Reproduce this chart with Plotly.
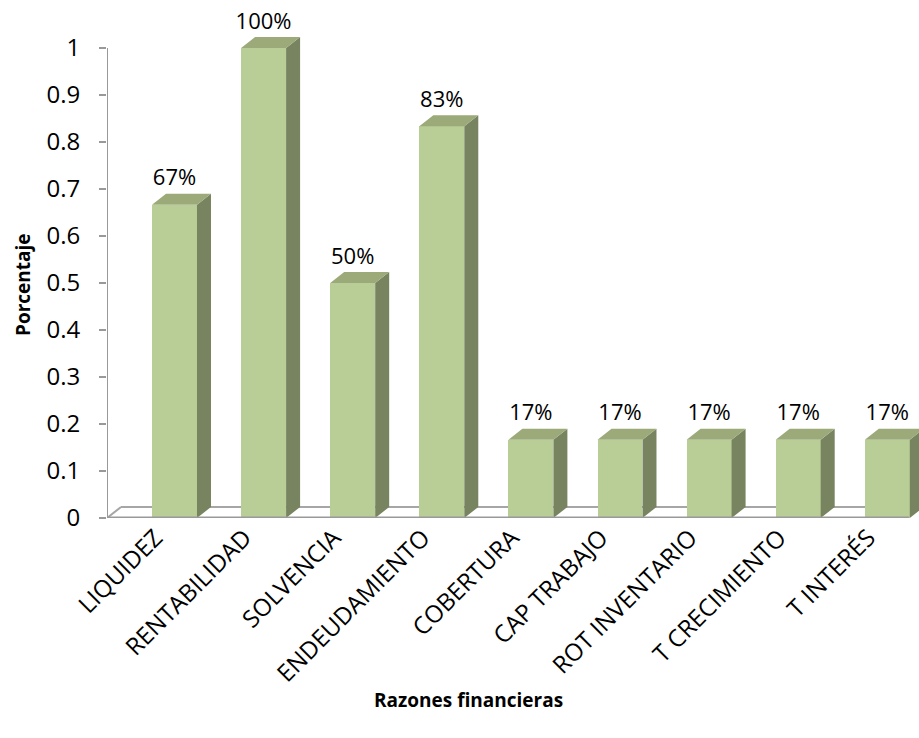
import plotly.graph_objects as go

categories = ["LIQUIDEZ", "RENTABILIDAD", "SOLVENCIA", "ENDEUDAMIENTO", "COBERTURA",
              "CAP TRABAJO", "ROT INVENTARIO", "T CRECIMIENTO", "T INTERÉS"]
values = [0.6667, 1.0, 0.5, 0.8333, 0.1667, 0.1667, 0.1667, 0.1667, 0.1667]
labels = ["67%", "100%", "50%", "83%", "17%", "17%", "17%", "17%", "17%"]
y_ticks = [0, 0.1, 0.2, 0.3, 0.4, 0.5, 0.6, 0.7, 0.8, 0.9, 1]
y_ticktext = ["0", "0.1", "0.2", "0.3", "0.4", "0.5", "0.6", "0.7", "0.8", "0.9", "1"]

# layout geometry (pixels)
W, H = 919, 738
ML, MR, MT, MB = 107, 0, 0, 220
PW, PH = W - ML - MR, H - MT - MB
X_PX = 89.1          # pixels per category
Y_PX = 470.0         # pixels per 1.0
x_min = -0.5
x_max = x_min + PW / X_PX
y_max = PH / Y_PX

# 3D depth
DX = 14 / X_PX
DY = 11 / Y_PX
BAR_OFF = 0.005
BAR_W = 0.505
LABEL_GAP = 25 / Y_PX

FRONT = "#B9CD96"
TOP = "#9BAA78"
SIDE = "#788460"
FONT = "Open Sans"

n = len(categories)
xs = list(range(n))

fig = go.Figure()

# side faces and top faces built from data
sx, sy, tx, ty = [], [], [], []
for i, v in zip(xs, values):
    l = i + BAR_OFF
    r = l + BAR_W
    sx += [r, r + DX, r + DX, r, r, None]
    sy += [0, DY, v + DY, v, 0, None]
    tx += [l, r, r + DX, l + DX, l, None]
    ty += [v, v, v + DY, v + DY, v, None]

fig.add_trace(go.Scatter(x=sx, y=sy, mode="lines", fill="toself", fillcolor=SIDE,
                         line=dict(width=0, color=SIDE), hoverinfo="skip", showlegend=False))
fig.add_trace(go.Scatter(x=tx, y=ty, mode="lines", fill="toself", fillcolor=TOP,
                         line=dict(width=0, color=TOP), hoverinfo="skip", showlegend=False))
fig.add_trace(go.Bar(x=xs, y=values, width=BAR_W, offset=BAR_OFF, marker=dict(color=FRONT, line=dict(width=0)),
                     showlegend=False))
fig.add_trace(go.Scatter(x=[i + BAR_OFF + BAR_W / 2 for i in xs], y=[v + LABEL_GAP for v in values],
                         mode="text", text=labels, textposition="middle center",
                         textfont=dict(family=FONT, size=22, color="#000000"),
                         cliponaxis=False, showlegend=False, hoverinfo="skip"))

shapes = [
    # floor back line
    dict(type="line", xref="x", yref="y", x0=x_min + DX, x1=x_max + DX, y0=DY, y1=DY,
         line=dict(color="#A6A6A6", width=2), layer="below"),
    # floor left edge
    dict(type="line", xref="x", yref="y", x0=x_min, x1=x_min + DX, y0=0, y1=DY,
         line=dict(color="#A6A6A6", width=2), layer="below"),
    # floor front line
    dict(type="line", xref="x", yref="y", x0=x_min, x1=x_min + n, y0=0, y1=0,
         line=dict(color="#999999", width=3), layer="above"),
    # value axis line
    dict(type="line", xref="x", yref="y", x0=x_min, x1=x_min, y0=0, y1=1,
         line=dict(color="#999999", width=2), layer="above"),
]

def px_x(p):
    return (p - ML) / PW

def px_y(p):
    return (H - MB - p) / PH

annotations = [
    dict(text="<b>Porcentaje</b>", x=px_x(23), y=px_y(285), xref="paper", yref="paper",
         textangle=-90, showarrow=False, xanchor="center", yanchor="middle",
         font=dict(family=FONT, size=19, color="#000000")),
    dict(text="<b>Razones financieras</b>", x=px_x(468), y=px_y(700), xref="paper", yref="paper",
         showarrow=False, xanchor="center", yanchor="middle",
         font=dict(family=FONT, size=19, color="#000000")),
]

fig.update_layout(
    width=W, height=H,
    margin=dict(l=ML, r=MR, t=MT, b=MB, pad=0),
    paper_bgcolor="white", plot_bgcolor="white",
    shapes=shapes, annotations=annotations,
    bargap=0,
    xaxis=dict(range=[x_min, x_max], tickvals=xs, ticktext=categories, tickangle=-45,
               showgrid=False, zeroline=False, showline=False, ticks="",
               ticklabelshift=4,
               tickfont=dict(family=FONT, size=24, color="#000000"), fixedrange=True),
    yaxis=dict(range=[0, y_max], tickvals=y_ticks, ticktext=y_ticktext,
               showgrid=False, zeroline=False, showline=False, ticks="outside", ticklen=7,
               tickcolor="#999999", tickwidth=2, ticklabelstandoff=14,
               tickfont=dict(family=FONT, size=24, color="#000000"), fixedrange=True),
)

fig.write_html("out.html")
